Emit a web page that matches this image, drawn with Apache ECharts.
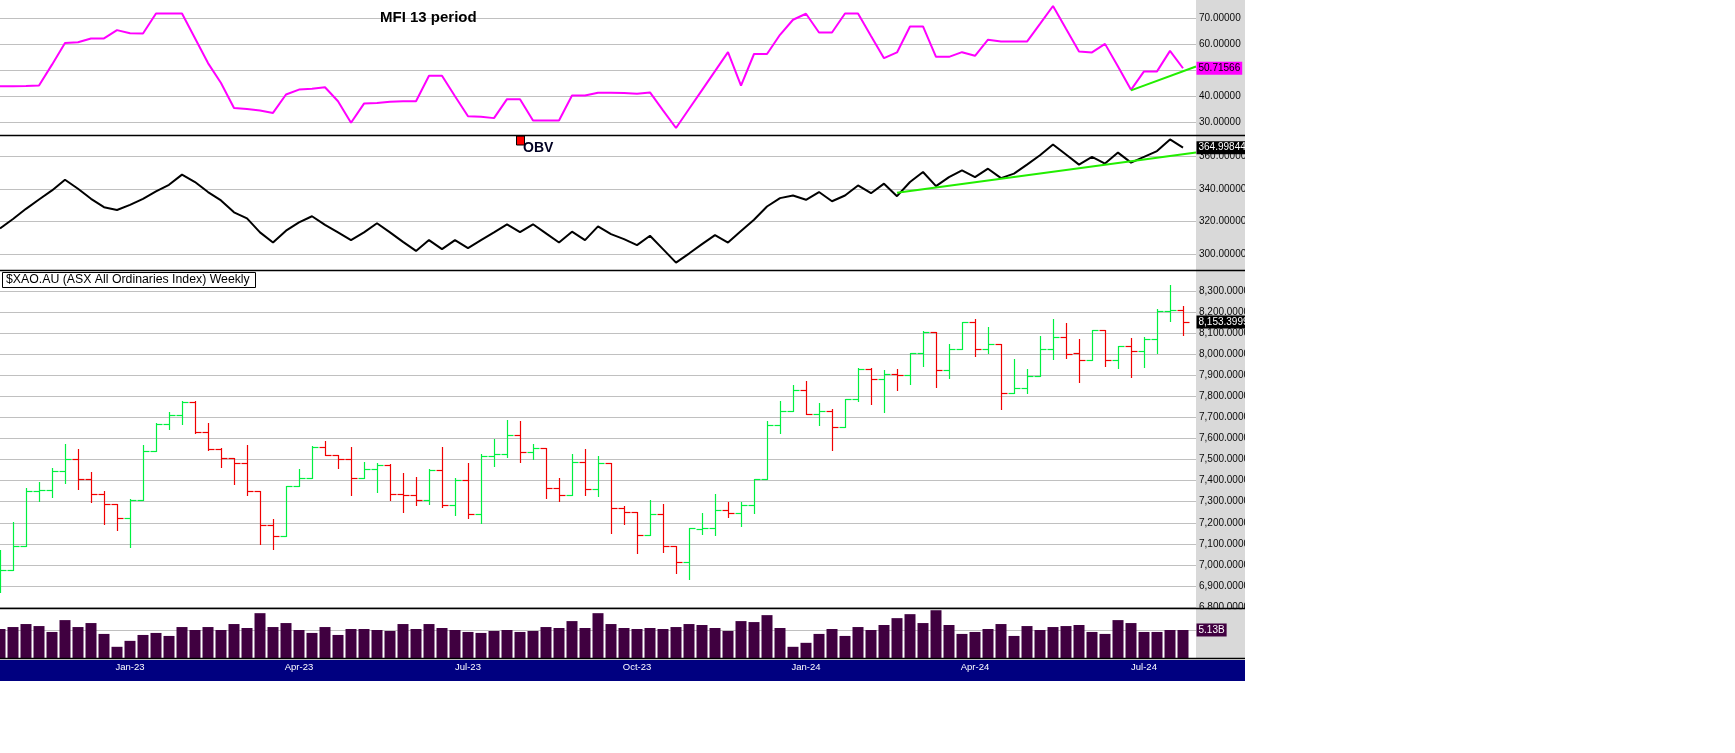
<!DOCTYPE html>
<html>
<head>
<meta charset="utf-8">
<script src="https://cdn.jsdelivr.net/npm/echarts@6/dist/echarts.min.js"></script>
<style>
html,body{margin:0;padding:0;background:#fff;width:1735px;height:753px;overflow:hidden;}
#chart{position:absolute;left:0;top:0;width:1245px;height:681px;}
</style>
</head>
<body>
<div id="chart"></div>
<script>
// ---- data (weekly bars, $XAO.AU) ----
const startWeek = '2022-10-28';
const barCount = 92;
const open = [6900,6976,7090,7351,7356,7444,7503,7406,7335,7288,
  7221,7308,7541,7669,7710,7773,7629,7552,7509,7484,
  7351,7188,7136,7373,7413,7560,7522,7501,7411,7455,
  7474,7335,7330,7310,7451,7283,7402,7243,7516,7527,
  7617,7535,7553,7364,7330,7487,7359,7484,7269,7250,
  7141,7243,7088,7012,7172,7175,7261,7245,7283,7406,
  7664,7729,7830,7715,7731,7655,7788,7932,7883,7905,
  7902,8006,8107,7925,8025,8152,8023,8049,7815,7840,
  7897,8025,8080,8004,7971,8114,7971,8038,8014,8071,
  8204,8209];
const high = [7070,7202,7364,7394,7460,7574,7549,7441,7351,7288,
  7315,7569,7672,7726,7777,7777,7674,7553,7509,7569,
  7353,7218,7373,7455,7563,7588,7522,7560,7487,7482,
  7478,7436,7416,7455,7560,7411,7484,7527,7596,7688,
  7683,7574,7553,7413,7527,7550,7517,7484,7278,7250,
  7308,7289,7088,7177,7245,7337,7299,7299,7406,7682,
  7778,7854,7873,7769,7740,7788,7933,7933,7927,7930,
  8006,8110,8107,8049,8153,8167,8129,8049,7978,7930,
  8087,8167,8148,8072,8115,8114,8038,8077,8080,8213,
  8329,8229];
const low = [6869,6976,7090,7305,7324,7387,7362,7300,7196,7167,
  7087,7308,7541,7647,7671,7628,7544,7466,7386,7334,
  7098,7077,7136,7373,7411,7522,7462,7334,7411,7348,
  7307,7253,7283,7291,7273,7239,7221,7201,7471,7514,
  7490,7503,7319,7305,7330,7334,7329,7152,7196,7058,
  7141,7063,6963,6935,7148,7142,7229,7186,7248,7406,
  7628,7729,7715,7666,7546,7655,7777,7764,7728,7832,
  7860,7944,7846,7889,8023,7992,8008,7740,7815,7818,
  7897,7978,7984,7870,7971,7946,7936,7894,7941,8008,
  8158,8093];
const close = [6976,7090,7351,7356,7444,7503,7406,7335,7288,7221,
  7308,7541,7669,7710,7773,7629,7552,7509,7484,7351,
  7188,7136,7373,7413,7560,7522,7501,7411,7455,7474,
  7335,7330,7310,7451,7283,7402,7243,7516,7527,7617,
  7535,7553,7364,7330,7487,7359,7484,7269,7250,7141,
  7243,7088,7012,7177,7175,7261,7245,7283,7406,7664,
  7729,7830,7715,7731,7655,7788,7932,7883,7905,7902,
  8006,8107,7925,8025,8152,8023,8049,7815,7840,7897,
  8025,8080,8000,7971,8114,7971,8038,8014,8071,8204,
  8209,8153.3999];
// Money Flow Index, 13 period
const mfi = [43.75,43.75,43.9,44.1,52.1,60.4,60.7,62.2,62.2,65.4,
  64.2,64.1,71.8,71.8,71.8,62.3,52.7,45.0,35.4,35.0,
  34.4,33.5,40.6,42.5,42.8,43.4,38.0,29.7,37.1,37.3,
  37.8,38.0,38.0,47.8,47.8,39.9,32.2,32.0,31.5,38.8,
  38.8,30.6,30.6,30.6,40.2,40.2,41.3,41.3,41.2,40.9,
  41.4,34.5,27.7,35.0,42.3,49.6,56.9,44.0,56.2,56.2,
  63.6,69.4,71.7,64.5,64.5,71.8,71.8,63.1,54.6,56.8,
  66.8,66.8,55.1,55.1,56.9,55.5,61.7,61.0,61.0,61.0,
  67.8,74.7,65.9,57.2,56.8,60.1,51.4,42.4,49.5,49.5,
  57.4,50.71566];
// On Balance Volume (billions)
const obv = [315.9,321.6,327.8,333.5,339.0,345.5,340.0,333.9,328.8,327.1,
  330.2,333.9,338.4,342.4,348.6,344.1,338.0,332.9,325.7,322.0,
  313.5,307.3,314.5,319.6,323.3,318.0,313.5,308.8,313.5,319.0,
  313.5,307.7,302.2,308.8,303.3,308.8,303.9,308.8,313.5,318.4,
  313.7,318.4,312.9,307.3,313.9,308.8,317.1,312.4,309.4,305.7,
  311.4,303.3,295.1,300.6,306.3,311.8,307.3,314.3,321.2,329.2,
  334.3,335.9,333.3,338.0,332.4,335.9,342.0,337.3,343.1,335.5,
  344.1,350.2,341.6,347.1,351.2,347.1,352.2,346.5,349.2,354.7,
  360.4,366.9,360.8,354.7,359.4,355.3,362.0,355.9,359.4,362.9,
  370.0,364.99844];
// Volume (billions)
const volume = [5.31,5.67,6.22,5.85,4.77,6.94,5.67,6.40,4.41,2.05,
  3.14,4.22,4.59,4.04,5.67,5.13,5.67,5.13,6.22,5.49,
  8.21,5.67,6.40,5.13,4.59,5.67,4.22,5.31,5.31,5.13,
  4.95,6.22,5.31,6.22,5.49,5.13,4.77,4.59,4.95,5.13,
  4.77,4.95,5.67,5.49,6.76,5.49,8.21,6.22,5.49,5.31,
  5.49,5.31,5.67,6.22,6.04,5.49,4.95,6.76,6.58,7.85,
  5.49,2.05,2.78,4.41,5.31,4.04,5.67,5.13,6.04,7.30,
  8.03,6.40,8.75,6.04,4.41,4.77,5.31,6.22,4.04,5.85,
  5.13,5.67,5.85,6.04,4.77,4.41,6.94,6.40,4.77,4.77,
  5.13,5.13];
// hand-drawn trendlines [barIndex, value]
const mfiTrend = [[87, 42.2], [92, 51.4]];
const obvTrend = [[69, 337.6], [92, 362.0]];
const tickMonths = ['Jan','Apr','Jul','Oct'];
const monthNames = ['Jan','Feb','Mar','Apr','May','Jun','Jul','Aug','Sep','Oct','Nov','Dec'];

// ---- build ----
const weeks = [];
const t0 = Date.parse(startWeek + 'T00:00:00Z');
for (let i = 0; i <= barCount; i++) {
  weeks.push(new Date(t0 + i * 7 * 86400000).toISOString().slice(0, 10));
}
function dateTick(val) {
  const d = new Date(val + 'T00:00:00Z');
  const m = monthNames[d.getUTCMonth()];
  if (tickMonths.indexOf(m) >= 0 && d.getUTCDate() <= 7) {
    return m + '-' + String(d.getUTCFullYear()).slice(2);
  }
  return '';
}
const ohlc = open.map((o, i) => [i, o, high[i], low[i], close[i]]);
const UP = '#00f040', DOWN = '#f00000';
const LBL = {color: '#0a0a0a', fontSize: 10, fontFamily: 'Liberation Sans', margin: 3};
const last = barCount - 1;

function xAx(g, showLabels) {
  return {
    type: 'category', gridIndex: g, data: weeks, boundaryGap: false,
    axisLine: {show: false}, axisTick: {show: false}, splitLine: {show: false},
    axisLabel: showLabels ? {
      show: true, interval: 0, color: '#ffffff', fontSize: 9.5,
      fontFamily: 'Liberation Sans', margin: 4, formatter: dateTick
    } : {show: false}
  };
}
const grid = {left: 0, right: 49, containLabel: false, outerBoundsMode: 'none'};
function tagLabel(text, bg, fg) {
  return {
    show: true, position: 'right', distance: 13, formatter: text,
    backgroundColor: bg, color: fg, fontSize: 10, fontFamily: 'Liberation Sans',
    padding: [2, 2, 1, 2]
  };
}
function tag(x, y, text, bg, fg) {
  return {
    symbol: 'rect', symbolSize: 1, silent: true, z: 60,
    itemStyle: {color: 'rgba(0,0,0,0)'},
    label: tagLabel(text, bg, fg),
    data: [{coord: [x, y]}]
  };
}
const priceFmt = v => v.toLocaleString('en-US', {minimumFractionDigits: 5, maximumFractionDigits: 5});

const option = {
  animation: false,
  backgroundColor: '#ffffff',
  title: [
    {text: 'MFI 13 period', left: 380, top: 10, padding: 0,
     textStyle: {fontSize: 15, fontWeight: 'bold', color: '#000', fontFamily: 'Liberation Sans'}},
    {text: 'OBV', left: 523, top: 141, padding: 0,
     textStyle: {fontSize: 14, fontWeight: 'bold', color: '#000022', fontFamily: 'Liberation Sans'}},
    {text: '$XAO.AU (ASX All Ordinaries Index) Weekly', left: 2, top: 272,
     padding: [2, 6, 2, 4], borderColor: '#000', borderWidth: 1, backgroundColor: '#fff',
     textStyle: {fontSize: 12.3, fontWeight: 'normal', color: '#000', fontFamily: 'Liberation Sans'}}
  ],
  graphic: {elements: [
    {type: 'rect', z: -10, shape: {x: 1196, y: 0, width: 49, height: 658}, style: {fill: '#d9d9d9'}},
    {type: 'rect', z: 45, shape: {x: 1196, y: 609.3, width: 49, height: 49}, style: {fill: '#d9d9d9'}},
    {type: 'rect', z: -10, shape: {x: 0, y: 660, width: 1245, height: 21}, style: {fill: '#000080'}},
    {type: 'line', z: 50, shape: {x1: 0, y1: 135.5, x2: 1245, y2: 135.5}, style: {stroke: '#000', lineWidth: 1.5}},
    {type: 'line', z: 50, shape: {x1: 0, y1: 270.5, x2: 1245, y2: 270.5}, style: {stroke: '#000', lineWidth: 1.5}},
    {type: 'line', z: 50, shape: {x1: 0, y1: 608.5, x2: 1245, y2: 608.5}, style: {stroke: '#000', lineWidth: 1.5}},
    {type: 'line', z: 50, shape: {x1: 0, y1: 658.5, x2: 1245, y2: 658.5}, style: {stroke: '#000', lineWidth: 1.5}},
    {type: 'rect', z: 40, shape: {x: 516.5, y: 136, width: 8, height: 9}, style: {fill: '#ff0000', stroke: '#000', lineWidth: 1}}
  ]},
  grid: [
    Object.assign({top: 0, height: 135}, grid),
    Object.assign({top: 135, height: 135}, grid),
    Object.assign({top: 270, height: 337}, grid),
    Object.assign({top: 607, height: 51}, grid)
  ],
  xAxis: [xAx(0, false), xAx(1, false), xAx(2, false), xAx(3, true)],
  yAxis: [
    {type: 'value', gridIndex: 0, position: 'right', min: 25, max: 77, splitNumber: 5,
     axisLine: {show: false}, axisTick: {show: false},
     axisLabel: Object.assign({showMinLabel: false, showMaxLabel: false, formatter: v => v.toFixed(5)}, LBL),
     splitLine: {lineStyle: {color: '#c0c0c0', width: 1}, showMinLine: false, showMaxLine: false}},
    {type: 'value', gridIndex: 1, position: 'right', min: 290.6, max: 372.7, splitNumber: 4,
     axisLine: {show: false}, axisTick: {show: false},
     axisLabel: Object.assign({showMinLabel: false, showMaxLabel: false, formatter: v => v.toFixed(5) + 'B'}, LBL),
     splitLine: {lineStyle: {color: '#c0c0c0', width: 1}, showMinLine: false, showMaxLine: false}},
    {type: 'value', gridIndex: 2, position: 'right', min: 6800, max: 8400, interval: 100,
     axisLine: {show: false}, axisTick: {show: false},
     axisLabel: Object.assign({showMinLabel: true, showMaxLabel: false, formatter: priceFmt}, LBL),
     splitLine: {lineStyle: {color: '#c0c0c0', width: 1}, showMaxLine: false}},
    {type: 'value', gridIndex: 3, position: 'right', min: 0, max: 9.34, interval: 5.13,
     axisLine: {show: false}, axisTick: {show: false}, axisLabel: {show: false},
     splitLine: {lineStyle: {color: '#c0c0c0', width: 1}, showMinLine: false, showMaxLine: false}}
  ],
  series: [
    {type: 'line', name: 'MFI', xAxisIndex: 0, yAxisIndex: 0, data: mfi, symbol: 'none',
     lineStyle: {color: '#ff00ff', width: 2}, z: 3,
     markPoint: tag(last, mfi[last], mfi[last].toFixed(5), '#ff00ff', '#000000')},
    {type: 'line', name: 'MFI trend', xAxisIndex: 0, yAxisIndex: 0, data: mfiTrend, symbol: 'none',
     lineStyle: {color: '#22ee00', width: 2}, z: 4},
    {type: 'line', name: 'OBV', xAxisIndex: 1, yAxisIndex: 1, data: obv, symbol: 'none',
     lineStyle: {color: '#000000', width: 2}, z: 3,
     markPoint: tag(last, obv[last], obv[last].toFixed(5) + 'B', '#000000', '#ffffff')},
    {type: 'line', name: 'OBV trend', xAxisIndex: 1, yAxisIndex: 1, data: obvTrend, symbol: 'none',
     lineStyle: {color: '#22ee00', width: 2}, z: 4},
    {type: 'custom', name: 'XAO', xAxisIndex: 2, yAxisIndex: 2, data: ohlc,
     encode: {x: 0, y: [1, 2, 3, 4]},
     renderItem: function (params, api) {
       const i = api.value(0);
       const o = api.coord([i, api.value(1)]);
       const h = api.coord([i, api.value(2)]);
       const l = api.coord([i, api.value(3)]);
       const c = api.coord([i, api.value(4)]);
       const x = Math.round(o[0]) + 0.5;
       const col = api.value(4) >= api.value(1) ? UP : DOWN;
       const st = {stroke: col, lineWidth: 1.2};
       const yo = Math.round(o[1]) + 0.5, yc = Math.round(c[1]) + 0.5;
       return {type: 'group', children: [
         {type: 'line', shape: {x1: x, y1: Math.round(h[1]), x2: x, y2: Math.round(l[1]) + 1}, style: st},
         {type: 'line', shape: {x1: x - 6, y1: yo, x2: x, y2: yo}, style: st},
         {type: 'line', shape: {x1: x, y1: yc, x2: x + 6, y2: yc}, style: st}
       ]};
     },
     markPoint: tag(last, close[last], priceFmt(close[last]), '#000000', '#ffffff')},
    {type: 'bar', name: 'Volume', xAxisIndex: 3, yAxisIndex: 3, data: volume, barWidth: 11,
     itemStyle: {color: '#400040'},
     markPoint: tag(last, volume[last], volume[last].toFixed(2) + 'B', '#400040', '#ffffff')}
  ]
};
const chart = echarts.init(document.getElementById('chart'), null, {renderer: 'canvas'});
chart.setOption(option);
</script>
</body>
</html>
